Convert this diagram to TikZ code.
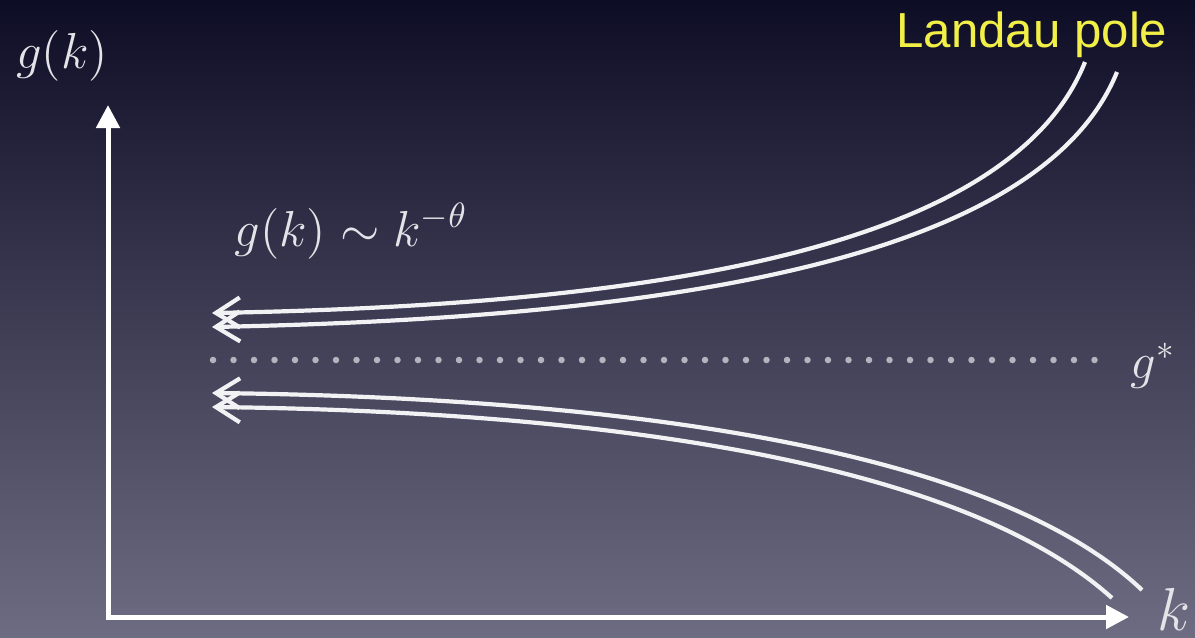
\documentclass[tikz,border=0pt]{standalone}
\usepackage{fontspec}
\newfontfamily\polefont{Liberation Sans}
\usepackage{amsmath}
\usetikzlibrary{arrows.meta}
\definecolor{slidetop}{HTML}{0E0D26}
\definecolor{slidemid}{HTML}{3A3A56}
\definecolor{slidebot}{HTML}{6E6C82}
\definecolor{chalk}{HTML}{F2F2F4}
\definecolor{axisink}{HTML}{FFFFFF}
\definecolor{labelink}{HTML}{E4E4E8}
\definecolor{fixedink}{HTML}{B4B4BE}
\definecolor{poleyellow}{HTML}{F2F046}

\begin{document}
\begin{tikzpicture}[
    every node/.style={inner sep=0pt},
    axis/.style={draw=axisink, line width=0.5mm,
                 {Triangle[length=2.3mm, width=2.3mm]}-{Triangle[length=2.3mm, width=2.3mm]}},
    flowline/.style={draw=chalk, line width=0.42mm,
                     {Straight Barb[length=2.4mm, width=3.0mm]}-},
    fixedline/.style={draw=fixedink, line width=0.65mm, line cap=round,
                      dash pattern=on 0pt off 2.05mm},
    mathlbl/.style={text=labelink, font=\Large},
    biglbl/.style={text=labelink, font=\fontsize{18}{22}\selectfont},
    polelbl/.style={text=poleyellow, font=\polefont\fontsize{14}{16}\selectfont},
  ]

  \shade[top color=slidetop, middle color=slidemid, bottom color=slidebot]
    (0,0) rectangle (11.95,-6.38);
  \useasboundingbox (0,0) rectangle (11.95,-6.38);

  \coordinate (O)    at (1.08,-6.17);
  \coordinate (YTIP) at (1.08,-1.05);
  \coordinate (XTIP) at (11.29,-6.17);
  \draw[axis] (YTIP) -- (O) -- (XTIP);

  \node[mathlbl, anchor=base] (GLBL)  at (0.62,-0.69) {$g(k)$};
  \node[biglbl, anchor=base]  (KLBL)  at (11.74,-6.30) {$k$};
  \node[mathlbl, anchor=base] (SCALE) at (3.51,-2.46) {$g(k)\sim k^{-\theta}$};
  \node[polelbl, anchor=base] (POLE)  at (10.32,-0.48) {Landau pole};
  \node[mathlbl, anchor=base] (GSTAR) at (11.53,-3.78) {$g^{*}$};

  \coordinate (FIXL) at (2.13,-3.60);
  \coordinate (FIXR) at (10.96,-3.60);
  \draw[fixedline] (FIXL) -- (FIXR);

  \coordinate (UP1A) at (2.12,-3.13);
  \coordinate (UP1B) at (10.85,-0.62);
  \coordinate (UP2A) at (2.12,-3.27);
  \coordinate (UP2B) at (11.17,-0.72);
  \draw[flowline] (UP1A) .. controls (6.50,-3.05) and (10.10,-2.50) .. (UP1B);
  \draw[flowline] (UP2A) .. controls (6.60,-3.18) and (10.40,-2.62) .. (UP2B);

  \coordinate (LO1A) at (2.12,-3.93);
  \coordinate (LO1B) at (11.42,-5.90);
  \coordinate (LO2A) at (2.12,-4.07);
  \coordinate (LO2B) at (11.12,-5.98);
  \draw[flowline] (LO1A) .. controls (6.50,-3.98) and (10.00,-4.55) .. (LO1B);
  \draw[flowline] (LO2A) .. controls (6.40,-4.12) and (9.70,-4.70) .. (LO2B);

\end{tikzpicture}
\end{document}
